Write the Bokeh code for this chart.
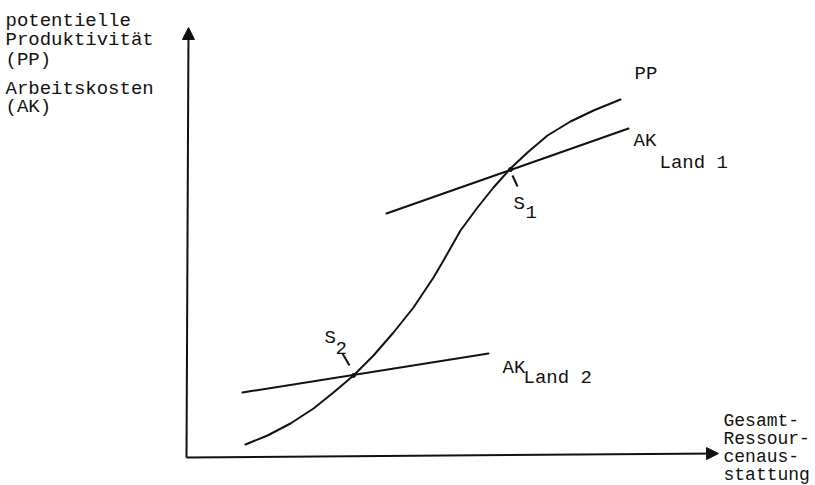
from bokeh.plotting import figure
from bokeh.models import Range1d, Arrow, NormalHead, ColumnDataSource
from bokeh.core.properties import value
from bokeh.embed import file_html
from bokeh.resources import INLINE

# ---- data (schematic units, origin at the axes corner) ----
pp_x = [59, 81, 104, 127, 147, 167, 187, 207, 227, 247, 257, 274, 291, 307,
        324, 341, 361, 384, 407, 434]
pp_y = [13, 22, 34, 49, 65, 82, 102, 125, 150, 180, 197, 227, 250, 270,
        289, 305, 322, 336, 347, 358]

ak1_x = [200, 442]
ak1_y = [244, 329]

ak2_x = [56, 302]
ak2_y = [65, 104]

s_points_x = [324, 167]
s_points_y = [288, 82]

y_title = ["potentielle", "Produktivität", "(PP)", "Arbeitskosten", "(AK)"]
x_title = ["Gesamt-", "Ressour-", "cenaus-", "stattung"]
curve_labels = ["PP", "AK", "Land 1", "AK", "Land 2", "S", "1", "S", "2"]

FONT = value("Liberation Mono")
INK = "#111111"

p = figure(width=815, height=485, output_backend="svg", toolbar_location=None,
           x_range=Range1d(-186, 629), y_range=Range1d(-28, 457),
           min_border=0, x_axis_type=None, y_axis_type=None)
p.grid.visible = False
p.outline_line_color = None
p.background_fill_color = "white"
p.border_fill_color = "white"

# axes as arrows
p.add_layout(Arrow(end=NormalHead(size=12, fill_color=INK, line_color=INK),
                   x_start=0, y_start=0, x_end=2, y_end=430,
                   line_width=2, line_color=INK))
p.add_layout(Arrow(end=NormalHead(size=12, fill_color=INK, line_color=INK),
                   x_start=0, y_start=0, x_end=532, y_end=4,
                   line_width=2, line_color=INK))

# curves
p.line(pp_x, pp_y, line_width=2, line_color=INK, line_join="round", line_cap="round")
p.line(ak1_x, ak1_y, line_width=2, line_color=INK, line_cap="round")
p.line(ak2_x, ak2_y, line_width=2, line_color=INK, line_cap="round")
p.scatter(s_points_x, s_points_y, marker="circle", size=4, color=INK)

# little leader ticks for S1, S2
p.segment(x0=[326, 156], y0=[282, 104], x1=[331, 163], y1=[271, 92],
          line_width=2, line_color=INK)

TXT = dict(text_font=FONT, text_font_size="19px", text_baseline="alphabetic",
           text_color=INK)

# y title block (top left)
p.text(x=[-181] * 5, y=[437, 418, 398, 369, 351], text=y_title, **TXT)

# x title block (bottom right)
TXT_R = dict(TXT, text_font_size="18px")
p.text(x=[537] * 4, y=[37, 19, 1, -17], text=x_title, **TXT_R)

# curve labels
lab = ColumnDataSource(dict(
    x=[448, 447, 473, 316, 337, 327, 339, 138, 149],
    y=[384, 317, 295, 90, 80, 254, 246, 120, 110],
    t=curve_labels))
p.text(x="x", y="y", text="t", source=lab, **TXT)

open("out.html", "w").write(file_html(p, INLINE))
